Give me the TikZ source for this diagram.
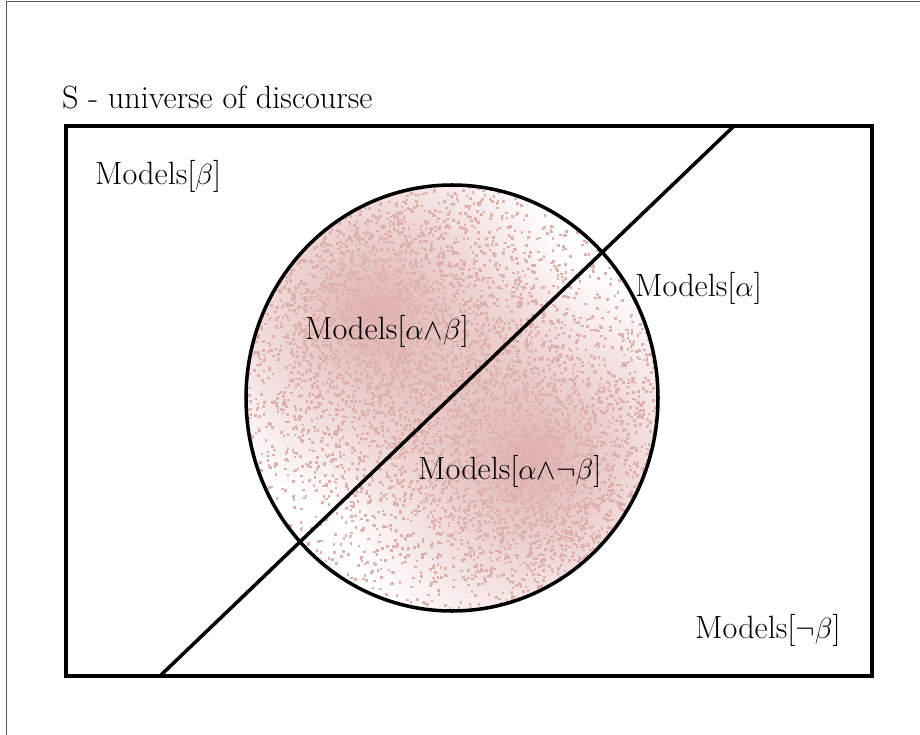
\documentclass[tikz,border=0pt]{standalone}
\usepackage{tikz}
\usetikzlibrary{calc,fadings}

\definecolor{speck}{RGB}{222,176,174}
\tikzfading[name=blobfade, inner color=transparent!0, outer color=transparent!100]
\tikzset{
  lbl/.style={anchor=west, inner sep=0pt, font=\fontsize{27.5}{31}\selectfont},
  edge/.style={line width=3pt, black}
}

\begin{document}
\begin{tikzpicture}[x=0.03cm, y=-0.03cm]
  \useasboundingbox (0,0) rectangle (920,735);
  \draw [gray!70!black, line width=1pt] (6.5,735) -- (6.5,1.5) -- (920,1.5);

  % speckled disc
  \begin{scope}
    \clip (452,398) ellipse (206 and 213);
    \fill [speck, path fading=blobfade] (375,315) circle (200);
    \fill [speck, path fading=blobfade] (530,460) circle (200);
    \pgfmathsetseed{11}
    \foreach \i in {1,...,2200}
    {
      \pgfmathsetmacro\px{375+80*(rand+rand+rand)}
      \pgfmathsetmacro\py{310+80*(rand+rand+rand)}
      \fill [speck] (\px,\py) rectangle +(2.6,2.6);
      \pgfmathsetmacro\qx{530+80*(rand+rand+rand)}
      \pgfmathsetmacro\qy{465+80*(rand+rand+rand)}
      \fill [speck] (\qx,\qy) rectangle +(2.6,2.6);
      \pgfmathsetmacro\ux{452+206*rand}
      \pgfmathsetmacro\uy{398+213*rand}
      \fill [speck] (\ux,\uy) rectangle +(2.6,2.6);
    }
  \end{scope}

  \coordinate (S-nw) at (66,126);
  \coordinate (S-se) at (872,676);
  \coordinate (D-lo) at (160,676);
  \coordinate (D-hi) at (734,126);

  \draw [edge] (S-nw) rectangle (S-se);
  \draw [edge] (452,398) ellipse (206 and 213);
  \draw [edge] (D-lo) -- (D-hi);

  \node [lbl] (universe) at (62,97) {S - universe of discourse};
  \node [lbl] (beta) at (95,176) {Models[$\beta$]};
  \node [lbl] (alpha) at (635,288) {Models[$\alpha$]};
  \node [lbl] (ab) at (305,331) {Models[$\alpha{\wedge}\beta$]};
  \node [lbl] (anb) at (418,471) {Models[$\alpha{\wedge}{\neg}\beta$]};
  \node [lbl] (nbeta) at (695,630) {Models[$\neg\beta$]};
\end{tikzpicture}
\end{document}
